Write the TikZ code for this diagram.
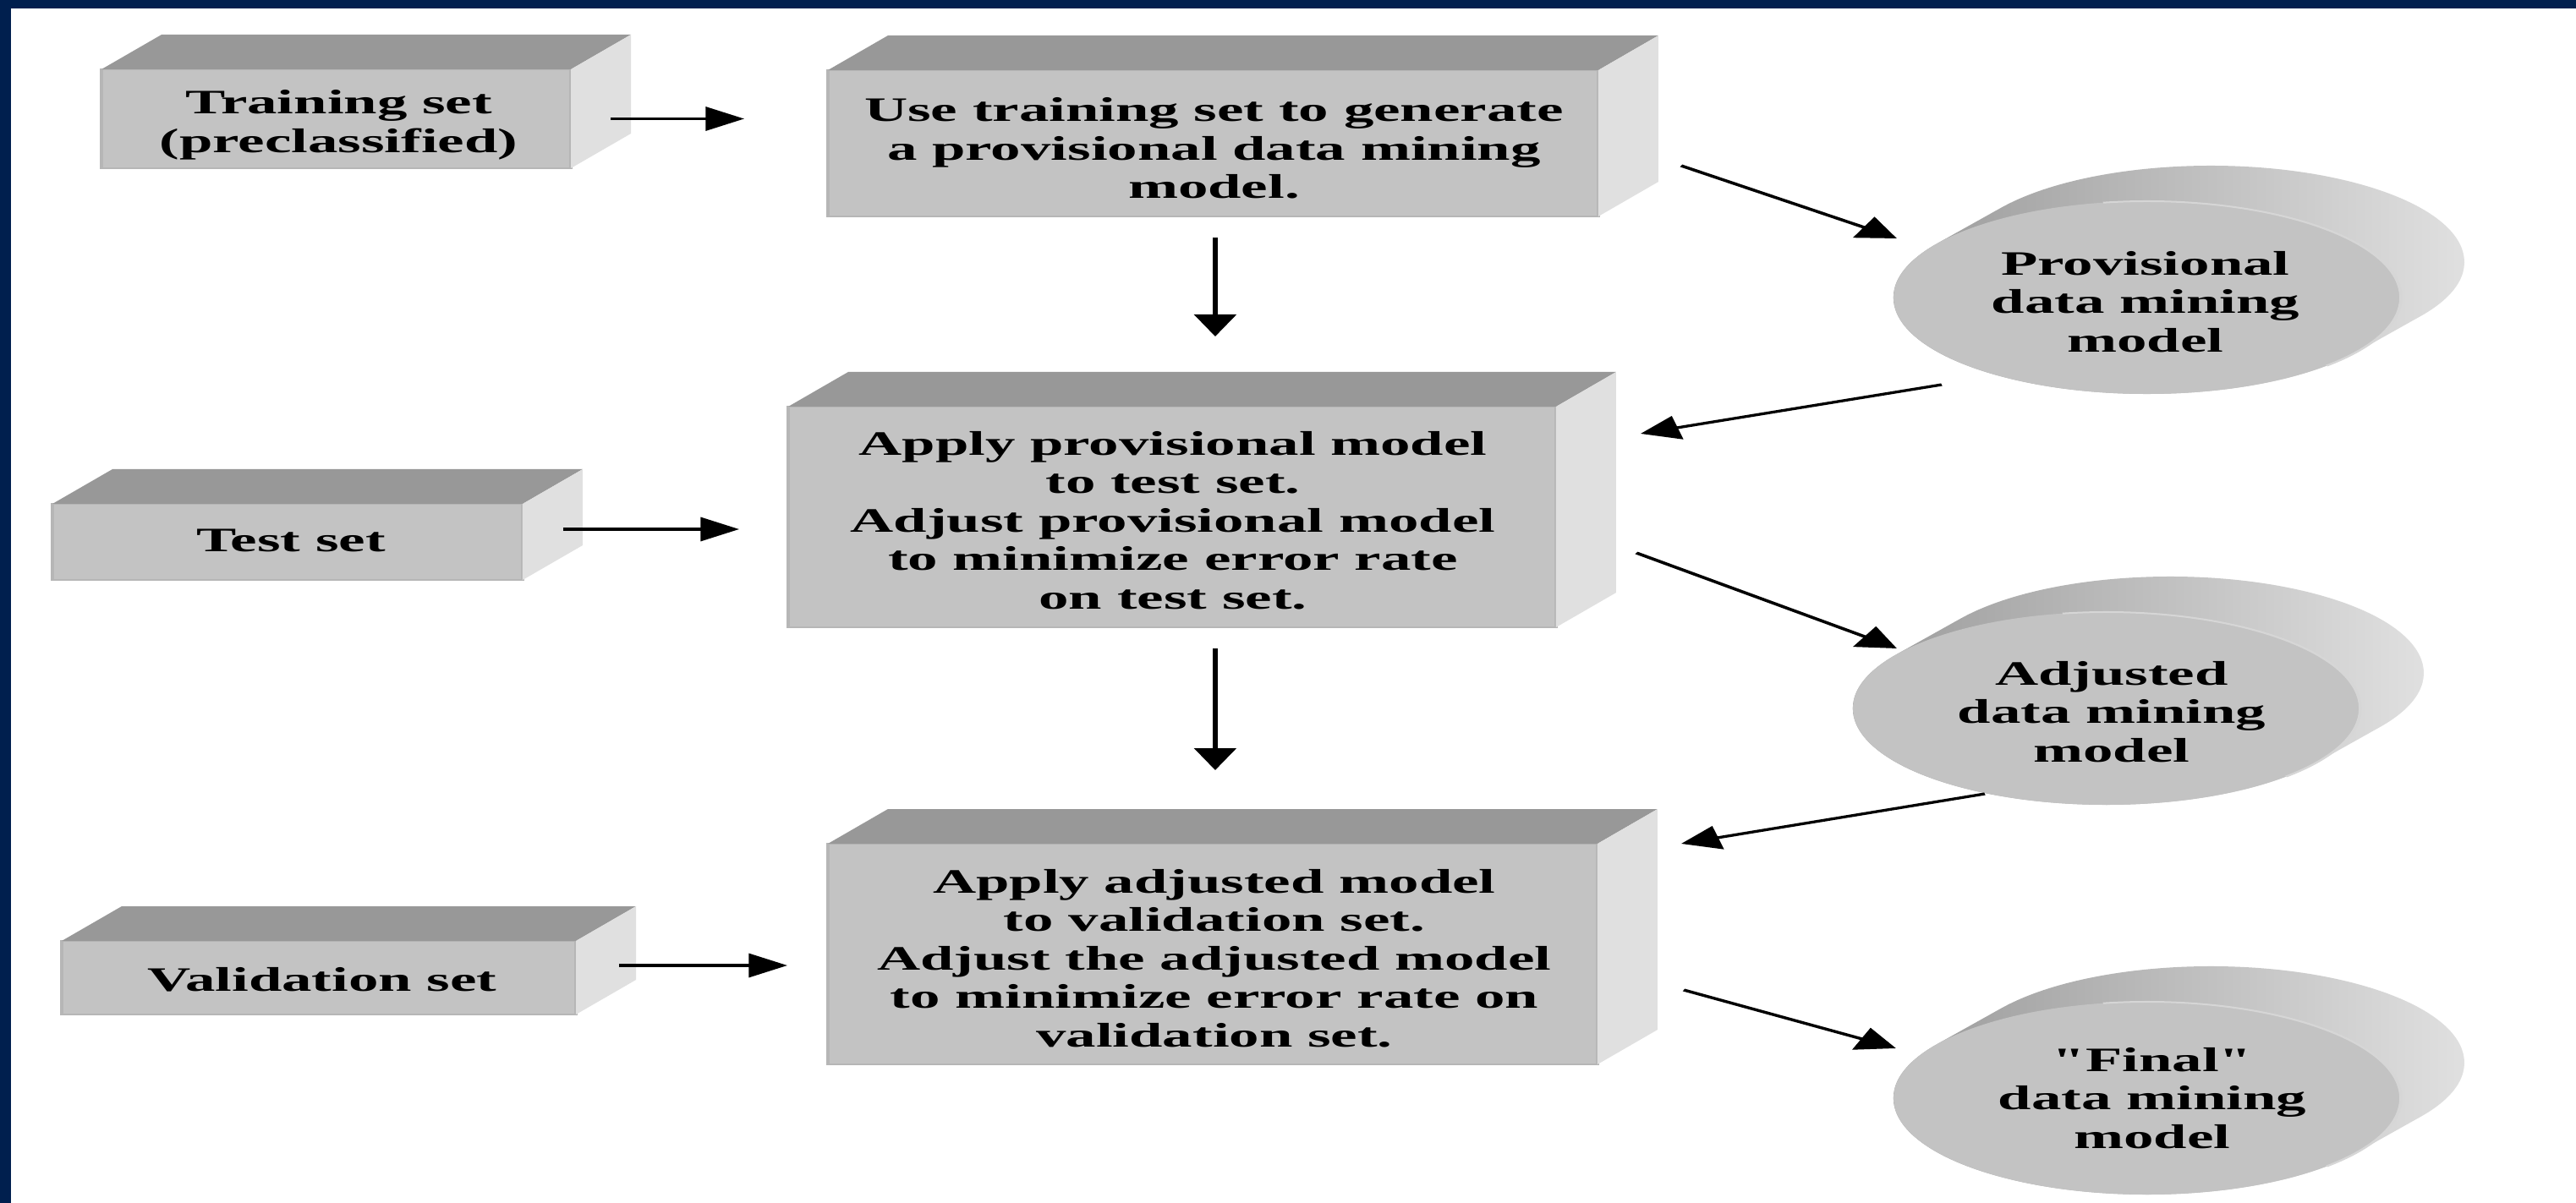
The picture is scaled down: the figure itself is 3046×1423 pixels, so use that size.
\documentclass[tikz,border=0pt]{standalone}
\usepackage{fontspec}
\setmainfont{Liberation Serif}
\usetikzlibrary{arrows.meta,calc,shapes.geometric}
\definecolor{navy}{RGB}{0,31,78}
\definecolor{frontc}{RGB}{195,195,195}
\definecolor{topc}{RGB}{152,152,152}
\definecolor{sidec}{RGB}{224,224,224}
\definecolor{edgec}{RGB}{182,182,182}
\definecolor{cyldark}{RGB}{150,150,150}
\definecolor{cyllight}{RGB}{228,228,228}
\definecolor{rimc}{RGB}{214,214,214}
\tikzset{
  lbl/.style={font=\fontsize{10.125pt}{11.375pt}\selectfont\bfseries, text=black, align=center, inner sep=0pt},
  face/.style={rectangle, fill=frontc, draw=edgec, line width=0.6pt, inner sep=0pt, outer sep=0pt},
  cylfront/.style={ellipse, fill=frontc, inner sep=0pt, outer sep=0pt, minimum width=85.714pt, minimum height=57pt},
  arr/.style={draw=black, line width=0.8pt, -{Triangle[length=6.5pt,width=7pt]}},
  topface/.style={fill=topc},
  sideface/.style={fill=sidec},
  cylside/.style={left color=cyldark, right color=cyllight},
  rim/.style={draw=rimc, line width=0.5pt},
}
\newcommand\drawcubeof[1]{%
  \fill[topface] (#1.north west) -- ++(71,-41) -- ($(#1.north east)+(71,-41)$) -- (#1.north east) -- cycle;
  \fill[sideface] (#1.north east) -- ++(71,-41) -- ($(#1.south east)+(71,-41)$) -- (#1.south east) -- cycle;}
\newcommand\drawcylof[1]{%
  \shade[cylside] ($(#1)+(248.3,64)$) -- ++(75,-42)
    arc[start angle=34.16, end angle=-145.84, x radius=300, y radius=114]
    -- ($(#1)+(-248.3,-64)$)
    arc[start angle=214.16, end angle=34.16, x radius=300, y radius=114] -- cycle;}
\newcommand\drawrimof[1]{%
  \draw[rim] ($(#1)+(212.1,80.6)$) arc[start angle=45, end angle=-100, x radius=300, y radius=114];}
\begin{document}
\begin{tikzpicture}[x=0.25pt,y=-0.25pt]
\useasboundingbox (0,0) rectangle (3046,1423);
\fill[white] (0,0) rectangle (3046,1423);
\fill[navy] (0,0) rectangle (3046,10);
\fill[navy] (0,0) rectangle (13,1423);
\begin{scope}[x=0.142857pt, transform canvas={xscale=1.75}]
  % boxes (front faces)
  \node[face, minimum width=79.29pt, minimum height=29.25pt] (b1) at (397.5,140.5) {};
  \node[face, minimum width=130.14pt, minimum height=43.25pt] (b2) at (1434.5,169.5) {};
  \node[face, minimum width=129.71pt, minimum height=65.25pt] (b3) at (1386,611.5) {};
  \node[face, minimum width=130pt, minimum height=65.25pt] (b4) at (1434,1128.5) {};
  \node[face, minimum width=79.43pt, minimum height=22.5pt] (bt) at (340,641) {};
  \node[face, minimum width=86.86pt, minimum height=21.75pt] (bv) at (377,1156.5) {};
  \drawcubeof{b1}
  \drawcubeof{b2}
  \drawcubeof{b3}
  \drawcubeof{b4}
  \drawcubeof{bt}
  \drawcubeof{bv}
  \node[lbl] (b1t) at ($(b1.center)+(3,7.5)$) {Training set\\(preclassified)};
  \node[lbl] (b2t) at ($(b2.center)+(1,6)$) {Use training set to generate\\a provisional data mining\\model.};
  \node[lbl] (b3t) at ($(b3.center)+(1,4)$) {Apply provisional model\\to test set.\\Adjust provisional model\\to minimize error rate\\on test set.};
  \node[lbl] (b4t) at ($(b4.center)+(2,5)$) {Apply adjusted model\\to validation set.\\Adjust the adjusted model\\to minimize error rate on\\validation set.};
  \node[lbl] (btt) at ($(bt.center)+(4,-2)$) {Test set};
  \node[lbl] (bvt) at ($(bv.center)+(4,2)$) {Validation set};
  % cylinders
  \coordinate (e1c) at (2539,352);
  \coordinate (e2c) at (2491,838);
  \coordinate (e3c) at (2539,1299);
  \drawcylof{e1c}
  \drawcylof{e2c}
  \drawcylof{e3c}
  \node[cylfront] (e1) at (e1c) {};
  \node[cylfront] (e2) at (e2c) {};
  \node[cylfront] (e3) at (e3c) {};
  \drawrimof{e1c}
  \drawrimof{e2c}
  \drawrimof{e3c}
  \node[lbl] (e1t) at ($(e1.center)+(-2,5)$) {Provisional\\data mining\\model};
  \node[lbl] (e2t) at ($(e2.center)+(6,4)$) {Adjusted\\data mining\\model};
  \node[lbl] (e3t) at ($(e3.center)+(6,0)$) {\textquotedbl Final\textquotedbl\\data mining\\model};
  % horizontal arrows
  \draw[arr] ($(b1.east)+(47,0)$) -- ($(b2.west |- b1.east)+(-99,0)$);
  \draw[arr] ($(bt.east)+(48,-15)$) -- ($(b3.west |- bt.east)+(-58,-15)$);
  \draw[arr] ($(bv.east)+(51,-14.5)$) -- ($(b4.west |- bv.east)+(-48,-14.5)$);
  % vertical arrows
  \draw[arr] ($(b2.south)+(2.5,25)$) -- ($(b2.south |- b3.north)+(2.5,-83)$);
  \draw[arr] ($(b4.north |- b3.south)+(3,25)$) -- ($(b4.north)+(3,-87)$);
  % diagonal arrows
  \draw[arr] ($(b2.east)+(98,26.5)$) -- ($(e1.west)+(4,-70)$);
  \draw[arr] ($(e1.south)+(-243,-11)$) -- ($(b3.east)+(100,-98.5)$);
  \draw[arr] ($(b3.east)+(95,42.5)$) -- ($(e2.west)+(52,-71)$);
  \draw[arr] ($(e2.south)+(-144,-13)$) -- ($(b4.east)+(99,-130.5)$);
  \draw[arr] ($(b4.east)+(102,42.5)$) -- ($(e3.west)+(3,-59)$);
\end{scope}
\end{tikzpicture}
\end{document}
